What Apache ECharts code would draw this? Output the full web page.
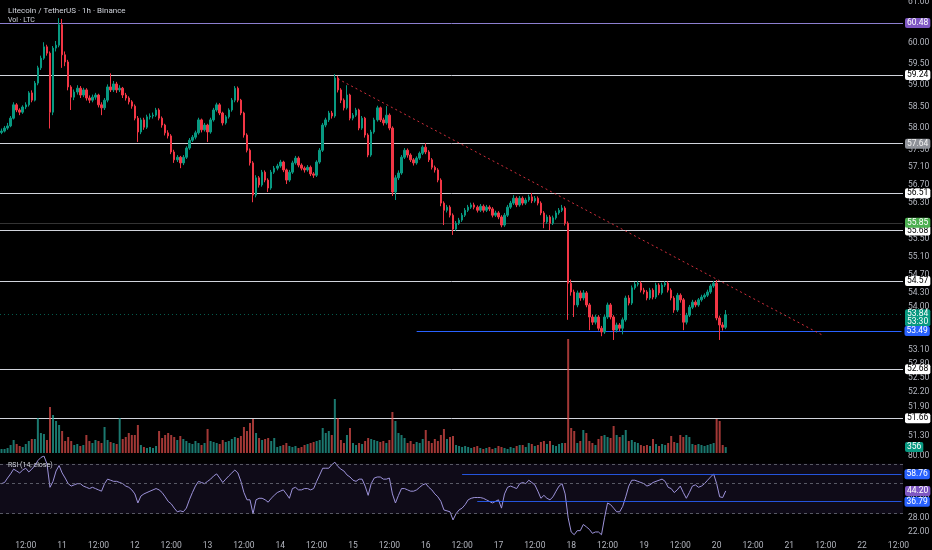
<!DOCTYPE html>
<html><head><meta charset="utf-8">
<script src="https://cdn.jsdelivr.net/npm/echarts/dist/echarts.min.js"></script>
<style>html,body{margin:0;padding:0;background:#000;}#c{width:932px;height:550px;}</style>
</head><body><div id="c"></div>
<script>
// ---- time axis (hourly candles, 10th 04:00 -> 22nd 13:00) ----
const days = [10,11,12,13,14,15,16,17,18,19,20,21,22];
const startHour = 4;
const nCats = 298;
const categories = [];
for (let k = 0; k < nCats; k++) {
  const t = startHour + k;
  categories.push(days[Math.floor(t / 24)] + ' ' + String(t % 24).padStart(2, '0') + ':00');
}

// ---- LTC/USDT 1h candles ----
const firstOpen = 57.90;
const closes = [
57.93,58.00,58.05,58.23,58.54,58.42,58.37,58.49,58.54,58.82,58.65,59.05,
59.41,59.64,59.91,59.76,58.37,59.88,59.95,60.44,59.72,59.55,58.96,58.72,
58.84,58.93,58.77,58.89,58.70,58.65,58.72,58.77,58.54,58.47,58.65,58.96,
58.89,59.03,58.89,58.93,58.77,58.70,58.61,58.51,58.23,57.91,58.19,58.02,
58.26,58.28,58.30,58.42,58.23,58.07,57.89,57.82,57.45,57.27,57.33,57.20,
57.33,57.54,57.72,57.79,57.89,58.19,57.96,58.07,57.91,58.19,58.42,58.54,
58.35,58.12,58.26,58.42,58.65,58.93,58.65,58.35,57.84,57.49,57.20,56.47,
56.86,56.70,56.99,56.81,56.63,56.99,57.08,57.13,57.22,57.04,56.81,56.99,
57.20,57.31,57.15,57.08,57.04,57.10,56.95,56.92,57.22,57.49,58.07,58.19,
58.35,58.28,59.17,58.89,58.65,58.47,58.77,58.23,58.30,58.42,58.00,58.23,
57.84,57.38,57.91,58.19,58.47,58.19,58.12,58.30,58.00,56.54,56.86,56.97,
57.33,57.49,57.38,57.27,57.20,57.31,57.42,57.56,57.45,57.27,57.10,57.04,
56.81,56.29,56.13,56.20,56.02,55.71,55.84,55.91,56.02,56.13,56.20,56.25,
56.20,56.13,56.22,56.13,56.20,56.16,56.02,56.07,55.98,55.80,56.02,56.20,
56.29,56.40,56.25,56.40,56.29,56.36,56.43,56.34,56.40,56.29,56.07,55.87,
55.98,55.84,55.96,56.07,56.13,56.18,55.84,54.52,54.33,54.05,54.31,54.20,
54.31,54.05,53.79,53.68,53.79,53.55,53.47,53.79,54.05,53.79,53.51,53.62,
53.55,53.73,54.20,54.09,54.42,54.50,54.52,54.37,54.33,54.20,54.37,54.22,
54.48,54.31,54.48,54.52,54.37,54.20,53.94,54.26,54.16,53.68,53.83,54.00,
54.11,54.05,54.16,54.22,54.26,54.33,54.46,54.52,53.77,53.62,53.57,53.84];
const highs = [
57.99,58.05,58.12,58.28,58.60,58.58,58.46,58.53,58.60,58.86,58.88,59.10,
59.46,59.70,60.02,59.96,59.80,59.93,60.05,60.60,60.58,59.80,59.60,59.00,
58.90,59.00,58.98,58.94,58.93,58.76,58.78,58.82,58.80,58.60,58.70,59.02,
59.28,59.10,59.08,59.00,58.96,58.82,58.74,58.65,58.55,58.28,58.24,58.24,
58.31,58.34,58.36,58.47,58.46,58.27,58.10,57.95,57.86,57.50,57.38,57.36,
57.38,57.58,57.77,57.84,57.94,58.24,58.22,58.12,58.10,58.24,58.47,58.59,
58.58,58.38,58.30,58.46,58.70,58.98,58.97,58.68,58.38,57.88,57.53,57.24,
56.92,56.90,57.04,57.03,56.85,57.04,57.13,57.18,57.27,57.25,57.07,57.04,
57.25,57.36,57.35,57.19,57.12,57.15,57.14,56.99,57.26,57.54,58.12,58.24,
58.40,58.40,59.26,59.22,58.93,58.69,59.00,58.80,58.35,58.47,58.45,58.28,
58.26,57.88,57.96,58.24,58.52,58.50,58.24,58.51,58.34,58.04,56.92,57.03,
57.38,57.54,57.53,57.42,57.31,57.35,57.46,57.60,57.65,57.49,57.31,57.14,
57.08,56.85,56.33,56.25,56.24,56.06,55.89,55.96,56.07,56.18,56.25,56.30,
56.30,56.24,56.27,56.26,56.25,56.24,56.20,56.12,56.11,56.02,56.07,56.25,
56.34,56.47,56.44,56.45,56.44,56.41,56.48,56.52,56.45,56.44,56.33,56.11,
56.03,56.02,56.01,56.12,56.18,56.25,56.22,55.88,54.60,54.38,54.36,54.36,
54.37,54.35,54.09,53.84,53.84,53.83,53.60,53.84,54.10,54.09,53.83,53.67,
53.66,53.78,54.25,54.26,54.47,54.55,54.57,54.56,54.42,54.37,54.42,54.41,
54.53,54.52,54.53,54.56,54.56,54.41,54.24,54.31,54.30,54.20,53.88,54.05,
54.16,54.15,54.20,54.27,54.30,54.38,54.50,54.57,54.59,53.82,53.68,53.94];
const lows = [
57.86,57.90,57.96,58.02,58.20,58.37,58.30,58.33,58.44,58.50,58.60,58.62,
59.00,59.36,59.60,59.70,57.99,58.30,59.80,59.90,59.41,59.45,58.88,58.42,
58.65,58.78,58.70,58.72,58.64,58.58,58.60,58.66,58.48,58.30,58.42,58.60,
58.84,58.84,58.82,58.84,58.70,58.64,58.55,58.45,58.18,57.68,57.86,57.96,
57.98,58.20,58.22,58.26,58.18,58.01,57.83,57.76,57.40,57.20,57.22,57.08,
57.15,57.29,57.50,57.68,57.74,57.85,57.90,57.92,57.68,57.87,58.15,58.38,
58.30,58.06,58.08,58.22,58.38,58.60,58.60,58.30,57.78,57.44,57.14,56.31,
56.42,56.64,56.66,56.76,56.54,56.59,56.95,57.03,57.09,56.99,56.72,56.77,
56.95,57.16,57.10,57.03,56.98,57.00,56.90,56.86,56.88,57.18,57.45,58.02,
58.14,58.22,58.24,58.83,58.58,58.41,58.43,58.18,58.18,58.26,57.95,57.96,
57.78,57.33,57.34,57.87,58.15,58.14,58.06,58.08,57.95,56.45,56.36,56.81,
56.93,57.29,57.32,57.22,57.14,57.16,57.27,57.38,57.40,57.22,57.05,56.98,
56.76,56.22,55.80,56.08,55.97,55.58,55.67,55.80,55.87,55.98,56.09,56.16,
56.15,56.08,56.09,56.08,56.09,56.11,55.97,55.98,55.93,55.75,55.76,55.98,
56.16,56.25,56.20,56.21,56.24,56.25,56.32,56.29,56.30,56.24,56.02,55.73,
55.83,55.69,55.80,55.92,56.03,56.09,55.79,53.73,54.25,53.79,54.00,54.14,
54.15,54.00,53.51,53.62,53.63,53.50,53.38,53.43,53.75,53.74,53.30,53.46,
53.49,53.42,53.69,54.04,54.05,54.38,54.45,54.32,54.28,54.15,54.16,54.17,
54.18,54.26,54.27,54.44,54.32,54.15,53.88,53.90,54.10,53.51,53.63,53.79,
53.96,54.00,54.01,54.12,54.18,54.22,54.29,54.42,53.72,53.30,53.50,53.53];
const volumes = [
240,240,300,480,780,540,420,360,540,720,840,840,
2100,1200,1140,780,2760,2280,1920,1680,1320,720,960,720,
480,540,420,480,1080,720,600,780,720,600,1560,780,
660,600,540,2100,840,960,1200,1080,1080,1680,480,360,
300,360,300,420,1320,900,1080,1200,1080,960,780,1020,
840,720,600,540,720,600,480,600,1440,720,660,600,
540,780,660,720,840,960,900,1020,1560,1320,1800,2040,
1200,900,780,840,900,720,900,360,420,480,600,420,
360,420,300,360,480,540,600,660,720,780,1500,1200,
1320,1080,3240,2100,780,600,1080,1500,600,480,600,540,
720,900,840,780,720,660,720,600,780,2460,1920,1200,
1080,900,600,720,540,660,600,840,1380,720,600,840,
720,1080,1440,840,960,1020,480,420,360,420,360,300,
360,420,300,240,300,360,240,300,420,360,300,240,
360,300,420,480,480,360,600,540,420,480,660,720,
540,720,480,420,540,600,600,6840,1500,1320,600,720,
1380,1200,720,600,480,840,1020,1080,960,900,1620,1080,
960,1080,1380,720,780,660,600,480,420,480,420,840,
540,420,540,480,600,1020,660,600,1080,960,1080,960,
540,480,540,480,420,480,540,600,2040,1920,480,356];
const rsi = [
50,51,55,59,64,62,60,63,65,61,64,68,
74,78,80,70,47,52,62,68,60,55,50,48,
49,50,50,48,47,46,47,46,45,44,50,54,
53,52,52,51,50,48,47,45,42,36,40.5,42,
43,44,45,46,45,43,40,37,35.5,33,31,31.5,
31,33,38,43,48,52,51,50,52,54,57,59,
55,51,54,57,60,63,60,52,43,38,38,30,
38,39,39,38,36.5,39,41,43,44,45,42,39,
46,47,45,45,46,46,45,46,52,58,65,65,
65,69,72,67,64,62,58,56,53,52,54,54,
48,41,50,55,56,56,54,54,55,42,36,41,
46,46,45,44,44,45,47,49,50,47,45,42,
40,37,32,31.5,31,27,30,32,33,35,38,39,
39.5,39.5,39.5,39,38,37,36,37,38,33,42,47,
48,47,46,50,51,50,53,51,49,44,39,41,
39,38,40,44,48,50,42,28,22,21,22.5,22.5,
25,24,23,21.5,22,22,21,28,36,35,33,31,
31,34,40,48,53,53,52,51,50,48,49,51,
52,53,54,52,47,46,43,45,48,43,39,43,
48,49,47,48,50,53,56,59,50,40,39.5,44.2];

// ---- axis ticks & drawn levels ----
const priceTicks = [61.00,60.00,59.50,59.00,58.50,58.00,57.50,57.10,56.70,56.30,55.50,55.10,54.70,54.30,54.00,53.10,52.80,52.50,52.20,51.90,51.30];
const levelLines = [60.48,59.24,57.64,56.51,55.68,54.57,52.68,51.66];
const greenTag = 55.85;
const lastPrice = 53.84;
const countdown = '53:30';
const supportLevel = 53.49;
const supportStartIdx = 137;
const trendStart = [111, 59.15];
const trendEnd = [271, 53.40];
const lastVolume = 356;
const rsiBands = [70, 50, 30];
const rsiTicks = [80, 40, 28, 22];
const rsiLevels = [[152, 58.76], [157, 36.79]];
const rsiLast = 44.20;

// ---- build ----
const UP = '#089981', DOWN = '#f23645';
const NOLINE = { color: 'rgba(0,0,0,0)', width: 0 };
const candleData = closes.map((c, i) => [i === 0 ? firstOpen : closes[i - 1], c, lows[i], highs[i]]);
const volData = volumes.map((v, i) => ({
  value: v,
  itemStyle: { color: candleData[i][1] >= candleData[i][0] ? 'rgba(38,166,154,0.72)' : 'rgba(239,83,80,0.68)' }
}));
const FONT = 'Roboto, "Noto Sans", sans-serif';
function tag(bg, fg) {
  return { show: true, position: 'end', distance: 2, backgroundColor: bg, color: fg, fontSize: 8.5,
           lineHeight: 9, fontFamily: FONT, padding: [1, 2, 0, 2], borderRadius: 2 };
}
const tickLabel = { show: true, position: 'end', distance: 5, color: '#b2b5be', fontSize: 8.5, fontFamily: FONT };

const levelStyle = {
  60.48: ['#8c7fd0', '#7e57c2', '#ffffff'],
  57.64: ['#d1d4dc', '#8f9299', '#f0f0f0']
};
const mainLines = levelLines.map(v => {
  const s = levelStyle[v] || ['#d1d4dc', '#ffffff', '#000000'];
  return { yAxis: v, lineStyle: { color: s[0], width: 1, type: 'solid' },
           label: Object.assign(tag(s[1], s[2]), { formatter: v.toFixed(2) }) };
});
mainLines.push({ yAxis: greenTag, lineStyle: { color: 'rgba(170,170,170,0.3)', width: 1, type: 'solid' },
  label: Object.assign(tag('#4caf50', '#ffffff'), { formatter: greenTag.toFixed(2) }) });
mainLines.push({ yAxis: lastPrice, lineStyle: { color: 'rgba(8,153,129,0.6)', width: 1, type: [1, 3] },
  label: Object.assign(tag(UP, '#ffffff'), { formatter: lastPrice.toFixed(2) + '\n' + countdown, lineHeight: 8, offset: [0, 3] }) });
mainLines.push([
  { coord: [supportStartIdx, supportLevel], lineStyle: { color: '#2962ff', width: 1, type: 'solid' },
    label: Object.assign(tag('#2962ff', '#ffffff'), { formatter: supportLevel.toFixed(2), distance: 3 }) },
  { coord: [nCats - 1, supportLevel] }
]);
mainLines.push([
  { coord: trendStart, lineStyle: { color: 'rgba(242,54,69,0.85)', width: 1, type: [2, 3] }, label: { show: false } },
  { coord: trendEnd }
]);

const rsiGuides = rsiBands.map(v => ({ yAxis: v, lineStyle: { color: 'rgba(120,123,134,0.7)', width: 1, type: [3, 3] }, label: { show: false } }));
const rsiTickMarks = rsiTicks.map(v => ({ yAxis: v, lineStyle: NOLINE, label: Object.assign({}, tickLabel, { formatter: v.toFixed(2) }) }));
const rsiTags = rsiLevels.map(([idx, v]) => [
  { coord: [idx, v], lineStyle: { color: 'rgba(41,98,255,0.85)', width: 1, type: 'solid' },
    label: Object.assign(tag('#2962ff', '#ffffff'), { formatter: v.toFixed(2), distance: 3 }) },
  { coord: [nCats - 1, v] }
]);
rsiTags.push({ yAxis: rsiLast, lineStyle: NOLINE, label: Object.assign(tag('#7e57c2', '#ffffff'), { formatter: rsiLast.toFixed(2) }) });

const xBase = { type: 'category', data: categories, boundaryGap: true, axisLine: { show: false }, axisTick: { show: false }, splitLine: { show: false } };
const hidden = { lineStyle: { color: 'rgba(0,0,0,0)', width: 0 }, showSymbol: false, silent: true };
const chart = echarts.init(document.getElementById('c'), null, { renderer: 'canvas' });
chart.setOption({
  animation: false,
  backgroundColor: '#000000',
  title: [
    { text: 'Litecoin / TetherUS · 1h · Binance', left: 3, top: 2, textStyle: { color: '#d1d4dc', fontSize: 8, fontWeight: 'normal', fontFamily: FONT } },
    { text: 'Vol · LTC', left: 3, top: 12, textStyle: { color: '#d1d4dc', fontSize: 7, fontWeight: 'normal', fontFamily: FONT } },
    { text: 'RSI (14, close)', left: 3, top: 457, textStyle: { color: '#d1d4dc', fontSize: 7, fontWeight: 'normal', fontFamily: FONT } }
  ],
  grid: [
    { left: 0, top: 0, width: 903, height: 455 },
    { left: 0, top: 333, width: 903, height: 120 },
    { left: 0, top: 456, width: 903, height: 81 }
  ],
  xAxis: [
    Object.assign({}, xBase, { gridIndex: 0, axisLabel: { show: false } }),
    Object.assign({}, xBase, { gridIndex: 1, axisLabel: { show: false } }),
    Object.assign({}, xBase, { gridIndex: 2, axisLabel: {
      show: true, color: '#b2b5be', fontSize: 8.5, fontFamily: FONT, margin: 4,
      interval: (i, v) => v.endsWith(' 00:00') || v.endsWith(' 12:00'),
      formatter: v => v.endsWith(' 00:00') ? v.split(' ')[0] : '12:00'
    } })
  ],
  yAxis: [
    { type: 'log', logBase: 10, gridIndex: 0, min: 50.91, max: 61.04, position: 'right', axisLabel: { show: false }, axisLine: { show: false }, axisTick: { show: false }, splitLine: { show: false } },
    { type: 'value', gridIndex: 1, min: 0, max: 7200, show: false, splitLine: { show: false } },
    { type: 'log', logBase: 10, gridIndex: 2, min: 20.2, max: 80, position: 'right', axisLabel: { show: false }, axisLine: { show: false }, axisTick: { show: false }, splitLine: { show: false } }
  ],
  series: [
    // tick labels on the bottom canvas layer
    Object.assign({ type: 'line', xAxisIndex: 0, yAxisIndex: 0, data: closes, zlevel: 0, z: 0,
      markLine: { silent: true, symbol: ['none', 'none'],
        data: priceTicks.map(v => ({ yAxis: v, lineStyle: NOLINE, label: Object.assign({}, tickLabel, { formatter: v.toFixed(2) }) })) } }, hidden),
    Object.assign({ type: 'line', xAxisIndex: 2, yAxisIndex: 2, data: rsi, zlevel: 0, z: 0,
      markLine: { silent: true, symbol: ['none', 'none'], data: rsiTickMarks } }, hidden),
    { type: 'line', xAxisIndex: 2, yAxisIndex: 2, data: rsi, showSymbol: false, silent: true, zlevel: 0,
      lineStyle: { color: '#9d93da', width: 1 },
      markArea: { silent: true, itemStyle: { color: 'rgba(126,87,194,0.12)' }, data: [[{ yAxis: 70 }, { yAxis: 30 }]] },
      markLine: { silent: true, symbol: ['none', 'none'], data: rsiGuides } },
    // marks and price tags on the upper layer
    { type: 'bar', xAxisIndex: 1, yAxisIndex: 1, data: volData, barWidth: 2, silent: true, zlevel: 1, z: 1,
      markLine: { silent: true, symbol: ['none', 'none'],
        data: [{ yAxis: lastVolume, lineStyle: NOLINE, label: Object.assign(tag(UP, '#ffffff'), { formatter: String(lastVolume) }) }] } },
    { type: 'candlestick', xAxisIndex: 0, yAxisIndex: 0, data: candleData, barWidth: 2, silent: true, zlevel: 1, z: 2,
      itemStyle: { color: UP, color0: DOWN, borderColor: UP, borderColor0: DOWN, borderWidth: 1 },
      markLine: { silent: true, symbol: ['none', 'none'], data: mainLines } },
    Object.assign({ type: 'line', xAxisIndex: 2, yAxisIndex: 2, data: rsi, zlevel: 1, z: 0,
      markLine: { silent: true, symbol: ['none', 'none'], data: rsiTags } }, hidden)
  ]
});
</script></body></html>
